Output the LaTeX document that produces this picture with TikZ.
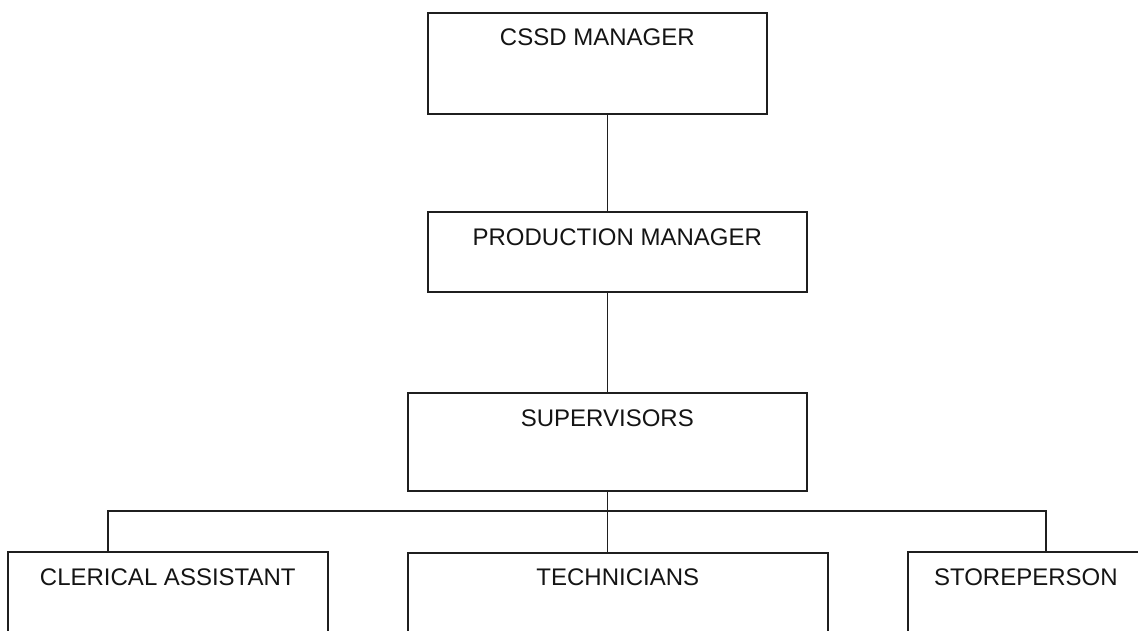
\documentclass[tikz,border=0pt]{standalone}
\usepackage{fontspec}
\setmainfont{Liberation Sans}
\begin{document}
\begin{tikzpicture}[x=1pt,y=-1pt,
  box/.style={draw=black!88, line width=1.6pt, rectangle, inner sep=0pt, anchor=north west,
    font=\fontsize{24}{28}\selectfont, text=black!92},
  link/.style={draw=black!88, line width=1.6pt}]
\useasboundingbox (0,0) rectangle (1138,630);
\clip (0,0) rectangle (1138,630);
\node[box, minimum width=339pt, text height=33pt, text depth=68pt] (cssd) at (427,12) {CSSD MANAGER};
\node[box, minimum width=379pt, text height=34pt, text depth=46pt] (prod) at (427,211) {PRODUCTION MANAGER};
\node[box, minimum width=399pt, text height=34pt, text depth=64pt] (sup) at (407,392) {SUPERVISORS};
\node[box, minimum width=320pt, text height=34pt, text depth=66pt] (cler) at (7,551) {CLERICAL ASSISTANT};
\node[box, minimum width=420pt, text height=33pt, text depth=67pt] (tech) at (407,552) {TECHNICIANS};
\node[box, minimum width=236pt, text height=34pt, text depth=66pt] (store) at (907,551) {STOREPERSON};
\coordinate (busL) at (108,511);
\coordinate (busR) at (1046,511);
\draw[link] (cssd.south -| sup.north) -- (prod.north -| sup.north);
\draw[link] (prod.south -| sup.north) -- (sup.north);
\draw[link] (sup.south) -- (tech.north -| sup.south);
\draw[link] (cler.north -| busL) -- (busL) -- (busR) -- (store.north -| busR);
\end{tikzpicture}
\end{document}
